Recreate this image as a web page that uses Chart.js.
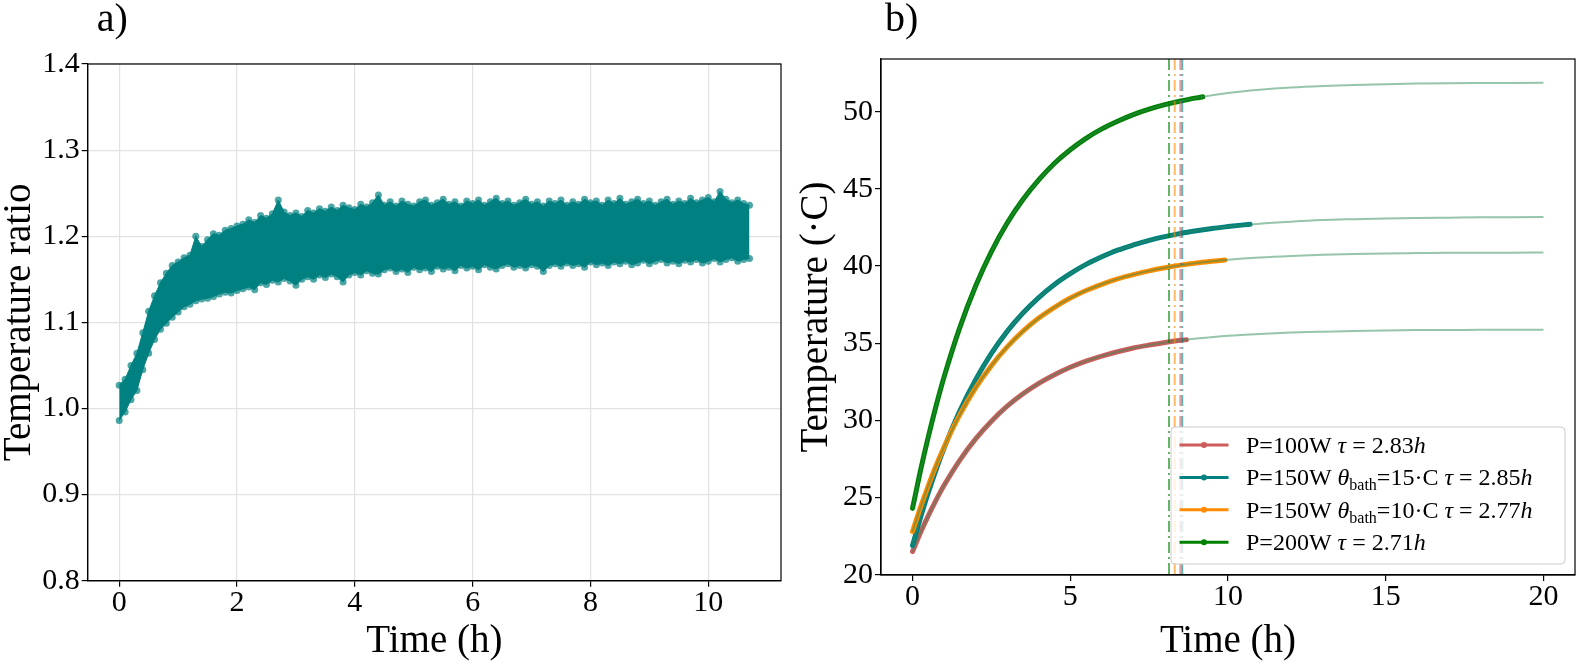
<!DOCTYPE html>
<html>
<head>
<meta charset="utf-8">
<script src="https://cdn.jsdelivr.net/npm/chart.js@4.4.1/dist/chart.umd.min.js"></script>
<style>
  body { margin: 0; background: #fff; }
  #wrap { position: relative; width: 1577px; height: 664px; }
  canvas { position: absolute; top: 0; }
</style>
</head>
<body>
<div id="wrap">
  <canvas id="ratioChart" width="790" height="664" style="left:0"></canvas>
  <canvas id="tempChart" width="787" height="664" style="left:790px"></canvas>
</div>
<script>
const FONT = "'Liberation Serif', 'DejaVu Serif', serif";

// Panel a): upper and lower edge of the temperature ratio scatter band
const ratioTime = [0, 0.1, 0.2, 0.3, 0.4, 0.5, 0.6, 0.7, 0.8, 0.9, 1.0, 1.1, 1.2, 1.3, 1.4, 1.5, 1.6, 1.7, 1.8, 1.9,
  2.0, 2.1, 2.2, 2.3, 2.4, 2.5, 2.6, 2.7, 2.8, 2.9, 3.0, 3.1, 3.2, 3.3, 3.4, 3.5, 3.6, 3.7, 3.8, 3.9,
  4.0, 4.1, 4.2, 4.3, 4.4, 4.5, 4.6, 4.7, 4.8, 4.9, 5.0, 5.1, 5.2, 5.3, 5.4, 5.5, 5.6, 5.7, 5.8, 5.9,
  6.0, 6.1, 6.2, 6.3, 6.4, 6.5, 6.6, 6.7, 6.8, 6.9, 7.0, 7.1, 7.2, 7.3, 7.4, 7.5, 7.6, 7.7, 7.8, 7.9,
  8.0, 8.1, 8.2, 8.3, 8.4, 8.5, 8.6, 8.7, 8.8, 8.9, 9.0, 9.1, 9.2, 9.3, 9.4, 9.5, 9.6, 9.7, 9.8, 9.9,
  10.0, 10.1, 10.2, 10.3, 10.4, 10.5, 10.6, 10.7];
const ratioUpper = [1.027, 1.034, 1.050, 1.064, 1.088, 1.113, 1.131, 1.146, 1.157, 1.166, 1.170, 1.175, 1.178, 1.200, 1.188, 1.196, 1.203, 1.201, 1.207, 1.209,
  1.212, 1.214, 1.219, 1.216, 1.224, 1.221, 1.226, 1.242, 1.228, 1.224, 1.227, 1.223, 1.230, 1.227, 1.232, 1.229, 1.234, 1.230, 1.236, 1.233,
  1.231, 1.237, 1.234, 1.239, 1.248, 1.236, 1.240, 1.235, 1.241, 1.237, 1.235, 1.240, 1.242, 1.236, 1.239, 1.243, 1.237, 1.240, 1.235, 1.241,
  1.238, 1.242, 1.236, 1.240, 1.244, 1.238, 1.241, 1.236, 1.239, 1.243, 1.237, 1.240, 1.235, 1.241, 1.238, 1.242, 1.236, 1.240, 1.237, 1.243,
  1.239, 1.241, 1.236, 1.242, 1.238, 1.244, 1.237, 1.240, 1.243, 1.238, 1.241, 1.236, 1.240, 1.243, 1.237, 1.241, 1.238, 1.244, 1.239, 1.242,
  1.245, 1.240, 1.252, 1.243, 1.239, 1.242, 1.238, 1.236];
const ratioLower = [0.986, 0.996, 1.010, 1.021, 1.045, 1.064, 1.080, 1.092, 1.099, 1.106, 1.112, 1.118, 1.121, 1.125, 1.127, 1.128, 1.130, 1.133, 1.135, 1.134,
  1.137, 1.139, 1.141, 1.138, 1.146, 1.144, 1.149, 1.147, 1.151, 1.148, 1.143, 1.150, 1.153, 1.150, 1.155, 1.152, 1.156, 1.153, 1.147, 1.155,
  1.158, 1.155, 1.160, 1.157, 1.156, 1.161, 1.163, 1.159, 1.162, 1.158, 1.164, 1.161, 1.163, 1.159, 1.165, 1.162, 1.164, 1.160, 1.166, 1.163,
  1.165, 1.161, 1.167, 1.164, 1.162, 1.166, 1.168, 1.164, 1.166, 1.163, 1.167, 1.165, 1.159, 1.166, 1.168, 1.165, 1.169, 1.166, 1.168, 1.164,
  1.170, 1.167, 1.169, 1.166, 1.170, 1.168, 1.171, 1.167, 1.169, 1.172, 1.168, 1.171, 1.173, 1.169, 1.171, 1.168, 1.172, 1.170, 1.173, 1.169,
  1.171, 1.174, 1.170, 1.173, 1.175, 1.171, 1.173, 1.174];
const ratioXTicks = [0, 2, 4, 6, 8, 10];
const ratioYTicks = [0.8, 0.9, 1.0, 1.1, 1.2, 1.3, 1.4];

// Panel b): measured temperatures and fitted curves
const fitTime = [0, 0.25, 0.5, 0.75, 1, 1.5, 2, 2.5, 3, 3.5, 4, 4.5, 5, 5.5, 6, 6.5, 7, 7.5, 8, 8.5, 9, 10, 11, 12, 13, 14, 15, 16, 17, 18, 19, 20];
const fitRed = [21.50, 22.72, 23.83, 24.85, 25.79, 27.43, 28.80, 29.95, 30.92, 31.72, 32.40, 32.96, 33.44, 33.84, 34.17, 34.45, 34.69, 34.88, 35.05, 35.19, 35.30, 35.48, 35.60, 35.69, 35.75, 35.80, 35.83, 35.85, 35.86, 35.87, 35.88, 35.88];
const fitTeal = [21.90, 23.69, 25.33, 26.83, 28.20, 30.62, 32.64, 34.34, 35.77, 36.96, 37.96, 38.81, 39.51, 40.11, 40.60, 41.03, 41.37, 41.67, 41.91, 42.12, 42.29, 42.56, 42.75, 42.88, 42.98, 43.04, 43.09, 43.12, 43.14, 43.16, 43.17, 43.18];
const fitOrange = [22.80, 24.36, 25.78, 27.09, 28.28, 30.37, 32.11, 33.55, 34.76, 35.78, 36.63, 37.33, 37.93, 38.42, 38.82, 39.17, 39.45, 39.69, 39.89, 40.06, 40.20, 40.41, 40.56, 40.66, 40.73, 40.78, 40.82, 40.84, 40.86, 40.87, 40.87, 40.88];
const fitGreen = [24.30, 26.73, 28.94, 30.97, 32.82, 36.03, 38.71, 40.94, 42.79, 44.31, 45.58, 46.66, 47.54, 48.28, 48.89, 49.39, 49.82, 50.17, 50.46, 50.70, 50.90, 51.21, 51.42, 51.57, 51.67, 51.74, 51.79, 51.83, 51.85, 51.86, 51.87, 51.88];

const timeRed = [0, 0.25, 0.5, 0.75, 1, 1.5, 2, 2.5, 3, 3.5, 4, 4.5, 5, 5.5, 6, 6.5, 7, 7.5, 8, 8.5, 8.68];
const tempRed = [21.50, 22.72, 23.83, 24.85, 25.79, 27.43, 28.80, 29.95, 30.92, 31.72, 32.40, 32.96, 33.44, 33.84, 34.17, 34.45, 34.69, 34.88, 35.05, 35.19, 35.23];
const timeTeal = [0, 0.25, 0.5, 0.75, 1, 1.5, 2, 2.5, 3, 3.5, 4, 4.5, 5, 5.5, 6, 6.5, 7, 7.5, 8, 8.5, 9, 9.5, 10, 10.5, 10.7];
const tempTeal = [21.90, 23.69, 25.33, 26.83, 28.20, 30.62, 32.64, 34.34, 35.77, 36.96, 37.96, 38.81, 39.51, 40.11, 40.60, 41.03, 41.37, 41.67, 41.91, 42.12, 42.29, 42.44, 42.56, 42.67, 42.71];
const timeOrange = [0, 0.25, 0.5, 0.75, 1, 1.5, 2, 2.5, 3, 3.5, 4, 4.5, 5, 5.5, 6, 6.5, 7, 7.5, 8, 8.5, 9, 9.5, 9.9];
const tempOrange = [22.80, 24.36, 25.78, 27.09, 28.28, 30.37, 32.11, 33.55, 34.76, 35.78, 36.63, 37.33, 37.93, 38.42, 38.82, 39.17, 39.45, 39.69, 39.89, 40.06, 40.20, 40.31, 40.39];
const timeGreen = [0, 0.25, 0.5, 0.75, 1, 1.5, 2, 2.5, 3, 3.5, 4, 4.5, 5, 5.5, 6, 6.5, 7, 7.5, 8, 8.5, 9, 9.2];
const tempGreen = [24.30, 26.73, 28.94, 30.97, 32.82, 36.03, 38.71, 40.94, 42.79, 44.31, 45.58, 46.66, 47.54, 48.28, 48.89, 49.39, 49.82, 50.17, 50.46, 50.70, 50.90, 50.97];

// 3 tau markers (green, orange, red, teal)
const tauLines = [8.13, 8.31, 8.49, 8.55];
const tauColors = ['#008000', '#ff8c00', '#cd5c5c', '#008080'];

const tempXTicks = [0, 5, 10, 15, 20];
const tempYTicks = [20, 25, 30, 35, 40, 45, 50];

const seriesColors = ['#cd5c5c', '#008080', '#ff8c00', '#008000'];
const legendLabels = [
  [['P=100W ', 'n'], ['τ', 'i'], [' = 2.83', 'n'], ['h', 'i']],
  [['P=150W ', 'n'], ['θ', 'i'], ['bath', 's'], ['=15·C ', 'n'], ['τ', 'i'], [' = 2.85', 'n'], ['h', 'i']],
  [['P=150W ', 'n'], ['θ', 'i'], ['bath', 's'], ['=10·C ', 'n'], ['τ', 'i'], [' = 2.77', 'n'], ['h', 'i']],
  [['P=200W ', 'n'], ['τ', 'i'], [' = 2.71', 'n'], ['h', 'i']],
];

const pts = (xs, ys) => xs.map((x, i) => ({x: x, y: ys[i]}));

// shared axis setup
function axis(min, max, tickValues, title, fmt, onArea, size, tickPad, titlePad) {
  return {
    type: 'linear',
    min: min,
    max: max,
    afterBuildTicks: s => { s.ticks = tickValues.map(v => ({value: v})); },
    afterFit: s => { if (s.isHorizontal()) s.height = size; else s.width = size; },
    ticks: {
      font: {family: FONT, size: 30, lineHeight: 1},
      color: '#000',
      padding: tickPad,
      maxRotation: 0,
      autoSkip: false,
      callback: fmt,
    },
    grid: {
      display: true,
      drawOnChartArea: onArea,
      color: '#e2e2e2',
      lineWidth: 1.2,
      tickColor: '#000',
      tickWidth: 1.2,
      tickLength: 6,
    },
    border: {display: true, color: '#000', width: 1.2},
    title: {
      display: true,
      text: title,
      color: '#000',
      font: {family: FONT, size: 39, lineHeight: 1},
      padding: {top: titlePad, bottom: titlePad},
    },
  };
}

// box around the plot and the panel letter
const framePlugin = {
  id: 'frame',
  afterDraw(chart, args, opts) {
    const {ctx, chartArea: a} = chart;
    ctx.save();
    ctx.strokeStyle = '#000';
    ctx.lineWidth = 1.2;
    ctx.strokeRect(a.left, a.top, a.right - a.left, a.bottom - a.top);
    ctx.font = `40px ${FONT}`;
    ctx.fillStyle = '#000';
    ctx.textBaseline = 'alphabetic';
    ctx.fillText(opts.letter, a.left + opts.dx, 31);
    ctx.restore();
  }
};

const tauPlugin = {
  id: 'tauLines',
  afterDatasetsDraw(chart) {
    const {ctx, chartArea: a, scales: {x}} = chart;
    ctx.save();
    ctx.lineWidth = 2;
    ctx.globalAlpha = 0.6;
    ctx.setLineDash([11, 4, 2, 4]);
    tauLines.forEach((v, i) => {
      const px = x.getPixelForValue(v);
      ctx.strokeStyle = tauColors[i];
      ctx.beginPath();
      ctx.moveTo(px, a.top);
      ctx.lineTo(px, a.bottom);
      ctx.stroke();
    });
    ctx.restore();
  }
};

// legend with italic and subscript parts
const legendPlugin = {
  id: 'mathLegend',
  afterDraw(chart) {
    const {ctx, chartArea: a} = chart;
    const w = 394, h = 137;
    const left = a.right - 10 - w, top = a.bottom - 11 - h;
    ctx.save();
    ctx.beginPath();
    ctx.roundRect(left, top, w, h, 4);
    ctx.fillStyle = 'rgba(255,255,255,0.8)';
    ctx.fill();
    ctx.strokeStyle = '#cccccc';
    ctx.lineWidth = 1;
    ctx.stroke();
    legendLabels.forEach((parts, i) => {
      const y = top + 18 + i * 32.4;
      ctx.strokeStyle = seriesColors[i];
      ctx.lineWidth = 3;
      ctx.beginPath();
      ctx.moveTo(left + 8.5, y);
      ctx.lineTo(left + 57.5, y);
      ctx.stroke();
      ctx.fillStyle = seriesColors[i];
      ctx.beginPath();
      ctx.arc(left + 33, y, 3, 0, Math.PI * 2);
      ctx.fill();
      let tx = left + 75;
      const base = y + 8;
      ctx.fillStyle = '#000';
      ctx.textBaseline = 'alphabetic';
      parts.forEach(([txt, st]) => {
        let dy = 0;
        if (st === 'i') ctx.font = `italic 24px ${FONT}`;
        else if (st === 's') { ctx.font = `16px ${FONT}`; dy = 5; }
        else ctx.font = `24px ${FONT}`;
        ctx.fillText(txt, tx, base + dy);
        tx += ctx.measureText(txt).width;
      });
    });
    ctx.restore();
  }
};

const TEAL = 'rgb(0,128,128)';
const TEAL_DOT = 'rgba(0,128,128,0.7)';

new Chart(document.getElementById('ratioChart'), {
  type: 'line',
  data: {
    datasets: [
      {
        label: 'upper', data: pts(ratioTime, ratioUpper), fill: '+1',
        backgroundColor: TEAL, borderColor: TEAL, borderWidth: 1, tension: 0,
        pointRadius: 3.5, pointBorderWidth: 0, pointBackgroundColor: TEAL_DOT,
      },
      {
        label: 'lower', data: pts(ratioTime, ratioLower), fill: false,
        borderColor: TEAL, borderWidth: 1, tension: 0,
        pointRadius: 3.5, pointBorderWidth: 0, pointBackgroundColor: TEAL_DOT,
      },
    ]
  },
  options: {
    responsive: false,
    animation: false,
    events: [],
    layout: {padding: {top: 64, right: 9, left: 0, bottom: 0}},
    scales: {
      x: axis(-0.535, 11.235, ratioXTicks, 'Time (h)', v => String(v), true, 83.3, 1, 3),
      y: axis(0.8, 1.4, ratioYTicks, 'Temperature ratio', v => v.toFixed(1), true, 87.7, 2, 0),
    },
    plugins: {
      legend: {display: false},
      tooltip: {enabled: false},
      frame: {letter: 'a)', dx: 9},
    },
  },
  plugins: [framePlugin],
});

const dataSets = [
  [timeRed, tempRed, fitRed, 'P=100W τ = 2.83h'],
  [timeTeal, tempTeal, fitTeal, 'P=150W θbath=15·C τ = 2.85h'],
  [timeOrange, tempOrange, fitOrange, 'P=150W θbath=10·C τ = 2.77h'],
  [timeGreen, tempGreen, fitGreen, 'P=200W τ = 2.71h'],
];
const tempDatasets = [];
dataSets.forEach(([t, v, fit, label], i) => {
  tempDatasets.push({
    label: label, data: pts(t, v), borderColor: seriesColors[i], borderWidth: 5,
    borderCapStyle: 'round', pointRadius: 0, cubicInterpolationMode: 'monotone', fill: false,
    order: 20 - 2 * i,
  });
  tempDatasets.push({
    label: 'fit', data: pts(fitTime, fit), borderColor: 'rgba(46,139,87,0.5)', borderWidth: 2,
    pointRadius: 0, cubicInterpolationMode: 'monotone', fill: false,
    order: 19 - 2 * i,
  });
});

new Chart(document.getElementById('tempChart'), {
  type: 'line',
  data: {datasets: tempDatasets},
  options: {
    responsive: false,
    animation: false,
    events: [],
    layout: {padding: {top: 59, right: 2, left: 0, bottom: 0}},
    scales: {
      x: axis(-1.0, 21.0, tempXTicks, 'Time (h)', v => String(v), false, 89, 1, 3),
      y: axis(19.98, 53.42, tempYTicks, 'Temperature (·C)', v => String(v), false, 91, 2, 7),
    },
    plugins: {
      legend: {display: false},
      tooltip: {enabled: false},
      frame: {letter: 'b)', dx: 4},
    },
  },
  plugins: [tauPlugin, framePlugin, legendPlugin],
});
</script>
</body>
</html>
